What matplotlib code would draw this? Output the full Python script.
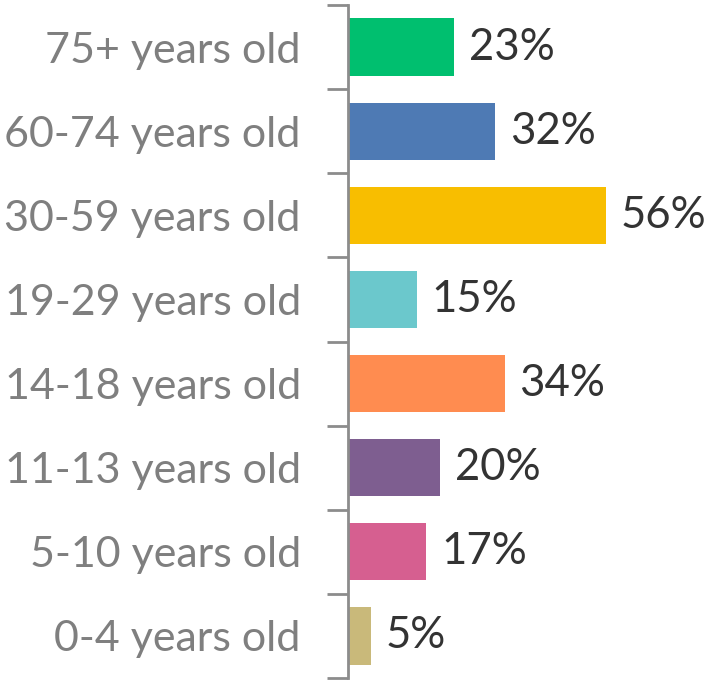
import matplotlib
matplotlib.use("Agg")
import matplotlib.pyplot as plt

# data, top to bottom as shown
groups = ["75+ years old", "60-74 years old", "30-59 years old", "19-29 years old",
          "14-18 years old", "11-13 years old", "5-10 years old", "0-4 years old"]
shares = [23, 32, 56, 15, 34, 20, 17, 5]
colors = ["#00BF6F", "#4E7AB4", "#F8BE00", "#6BC8CC",
          "#FF8C50", "#7E5E90", "#D65F90", "#C9B97A"]

plt.rcParams['font.family'] = ['Lato', 'DejaVu Sans']

fig = plt.figure(figsize=(7.06, 6.8), dpi=100)
ax = fig.add_axes([348 / 706, 2 / 680, 1 - 348 / 706, 673 / 680])

n = len(groups)
ypos = list(range(n))[::-1]
ax.barh(ypos, shares, height=0.68, color=colors, left=0)

for y, v in zip(ypos, shares):
    ax.text(v + 3.2, y, f"{v}%", va="center", ha="left",
            fontsize=31.5, color="#333333")

ax.set_xlim(0, 77.7)
ax.set_ylim(-0.5, n - 0.5)
ax.set_xticks([])

# category labels at bar centres, tick marks at the slot boundaries
ax.set_yticks(ypos)
ax.set_yticklabels(groups, fontsize=31, color="#7F7F7F")
ax.tick_params(axis="y", which="major", length=0, pad=34)
ax.set_yticks([i - 0.5 for i in range(n + 1)], minor=True)
ax.tick_params(axis="y", which="minor", length=15, width=2, color="#8C8C8C")

for s in ["top", "right", "bottom"]:
    ax.spines[s].set_visible(False)
ax.spines["left"].set_color("#8C8C8C")
ax.spines["left"].set_linewidth(2)

fig.savefig("out.png", dpi=100)
